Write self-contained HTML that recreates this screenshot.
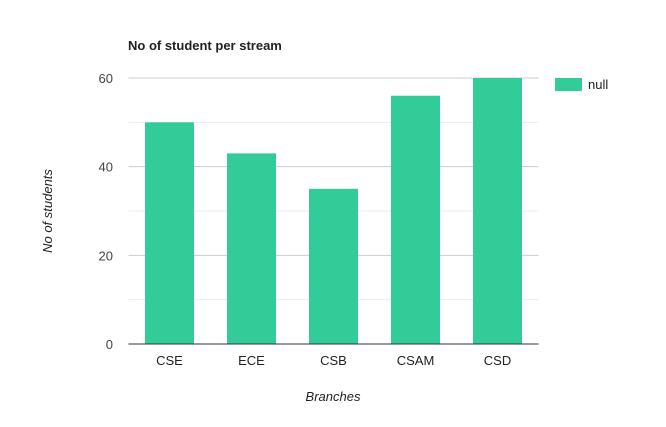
<!DOCTYPE html>
<html><head><meta charset="utf-8"><style>
body{margin:0;background:#fff;font-family:"Liberation Sans",Arial,sans-serif}
</style></head><body>
<svg id="c" width="666" height="422" xmlns="http://www.w3.org/2000/svg">
<rect width="666" height="422" fill="#fff"/>
<text x="128" y="50" font-size="13" font-weight="bold" fill="#222">No of student per stream</text>
<g id="grid"></g><g id="bars"></g><g id="labels"></g>
<text transform="translate(52,211) rotate(-90)" text-anchor="middle" font-size="13" font-style="italic" fill="#222">No of students</text>
<text x="333" y="401" text-anchor="middle" font-size="13" font-style="italic" fill="#222">Branches</text>
<g>
<rect x="555" y="78" width="27" height="13" fill="#33cc99"/>
<text x="588" y="89" font-size="13" fill="#222">null</text></g>
</svg>
<script>
const categories=["CSE","ECE","CSB","CSAM","CSD"];
const values=[50,43,35,56,60];
const yTicks=[0,20,40,60];
const ns="http://www.w3.org/2000/svg";
const L=128.5,R=538.5,Y0=344,Y60=78;
const y=v=>Y0-(Y0-Y60)*v/60;
const step=(R-L)/categories.length,bw=49;
const x=i=>L+step*i+(step-bw)/2;
function mk(t,a,p){const e=document.createElementNS(ns,t);for(const k in a)e.setAttribute(k,a[k]);p.appendChild(e);return e;}
const g=document.getElementById('grid'),b=document.getElementById('bars'),lb=document.getElementById('labels');
for(let v=10;v<=60;v+=10){const l=mk('line',{x1:L,x2:R,y1:y(v),y2:y(v),stroke:v%20?'#ebebeb':'#ccc'},g);

}
yTicks.forEach(v=>{const t=mk('text',{x:113,y:y(v)+5,'text-anchor':'end','font-size':13,fill:'#444'},lb);t.textContent=v;

});
categories.forEach((c,i)=>{const r=mk('rect',{x:x(i),y:y(values[i]),width:bw,height:Y0-y(values[i]),fill:'#33cc99'},b);


const t=mk('text',{x:x(i)+bw/2,y:365,'text-anchor':'middle','font-size':13,fill:'#222'},lb);t.textContent=c;

});
const ax=mk('line',{x1:L,x2:R,y1:Y0,y2:Y0,stroke:'#333'},g.parentNode);


</script>
</body></html>
